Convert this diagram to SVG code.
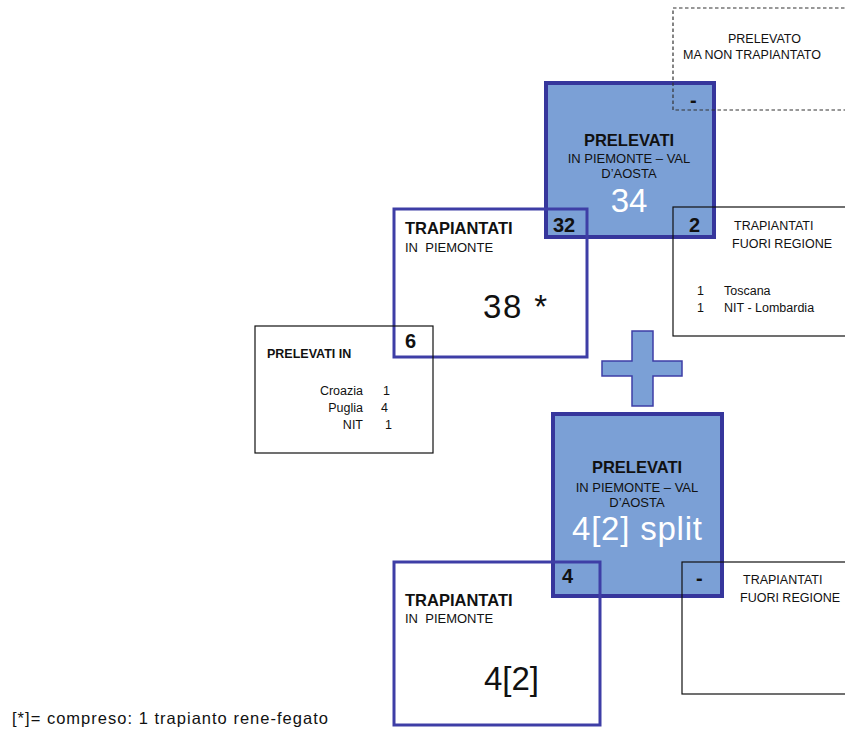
<svg xmlns="http://www.w3.org/2000/svg" width="845" height="731" viewBox="0 0 845 731">
<style>
text{font-family:"Liberation Sans",Arial,sans-serif;fill:#111;white-space:pre}
.blue{fill:#7ba0d6;stroke:#36369c;stroke-width:4}
.tr{fill:none;stroke:#3e3ea6;stroke-width:3}
.thin{fill:none;stroke:#111;stroke-width:1.2}
.dash{fill:none;stroke:#333;stroke-width:1.2;stroke-dasharray:3.5 2.5}
.h{font-weight:bold;font-size:16.5px}
.sub{font-size:13px}
.big{font-size:33px}
.wbig{font-size:33px;fill:#fff}
.num{font-weight:bold;font-size:20px}
.sm{font-size:12.5px}
.mid{text-anchor:middle}
.end{text-anchor:end}
</style>
<g id="connectors"/>
<g id="prelevati-top">
<rect class="blue" x="546" y="83" width="168" height="154"/>
<text class="h mid" x="629" y="146">PRELEVATI</text>
<text class="sub mid" x="629" y="163">IN PIEMONTE – VAL</text>
<text class="sub mid" x="629" y="178">D’AOSTA</text>
<text class="wbig mid" x="629" y="212">34</text>
</g>
<g id="prelevato-non-trapiantato">
<rect class="dash" x="673" y="8" width="180" height="102"/>
<text class="sm" x="728" y="43">PRELEVATO</text>
<text class="sm" x="683" y="59">MA NON TRAPIANTATO</text>
<text class="num" x="690" y="107">-</text>
</g>
<g id="trapiantati-top">
<rect class="tr" x="394" y="209" width="193" height="148"/>
<text class="h" x="405" y="234">TRAPIANTATI</text>
<text class="sub" x="405" y="252" xml:space="preserve">IN  PIEMONTE</text>
<text class="big" x="483" y="318" textLength="64" lengthAdjust="spacing">38 *</text>
<text class="num" x="553" y="232">32</text>
</g>
<g id="fuori-regione-top">
<rect class="thin" x="673" y="207" width="180" height="129"/>
<text class="sm" x="734" y="230">TRAPIANTATI</text>
<text class="sm" x="732" y="248">FUORI REGIONE</text>
<text class="sm" x="697" y="295">1</text>
<text class="sm" x="724" y="295">Toscana</text>
<text class="sm" x="697" y="312">1</text>
<text class="sm" x="724" y="312">NIT - Lombardia</text>
<text class="num" x="689" y="232">2</text>
</g>
<g id="prelevati-in">
<rect class="thin" x="255" y="326" width="178" height="127"/>
<text x="267" y="358" style="font-weight:bold;font-size:12.5px">PRELEVATI IN</text>
<text class="sm end" x="363" y="395">Croazia</text>
<text class="sm" x="383" y="395">1</text>
<text class="sm end" x="363" y="412">Puglia</text>
<text class="sm" x="381" y="412">4</text>
<text class="sm end" x="363" y="429">NIT</text>
<text class="sm" x="385" y="429">1</text>
<text class="num" x="405" y="348">6</text>
</g>
<g id="plus">
<path d="M632,331 H653 V361 H682 V376 H653 V406 H632 V376 H602 V361 H632 Z" fill="#7ba0d6" stroke="#3e3ea6" stroke-width="1.5"/>
</g>
<g id="prelevati-bottom">
<rect class="blue" x="553" y="414" width="169" height="182"/>
<text class="h mid" x="637" y="473">PRELEVATI</text>
<text class="sub mid" x="637" y="492">IN PIEMONTE – VAL</text>
<text class="sub mid" x="637" y="507">D’AOSTA</text>
<text class="wbig mid" x="637" y="540" textLength="130" lengthAdjust="spacing">4[2] split</text>
</g>
<g id="trapiantati-bottom">
<rect class="tr" x="394" y="562" width="206" height="163"/>
<text class="h" x="405" y="606">TRAPIANTATI</text>
<text class="sub" x="405" y="623" xml:space="preserve">IN  PIEMONTE</text>
<text class="big" x="484" y="690">4[2]</text>
<text class="num" x="562" y="583">4</text>
</g>
<g id="fuori-regione-bottom">
<rect class="thin" x="682" y="562" width="180" height="132"/>
<text class="sm" x="743" y="584">TRAPIANTATI</text>
<text class="sm" x="740" y="602">FUORI REGIONE</text>
<text class="num" x="696" y="585">-</text>
</g>
<g id="footnote">
<text x="12" y="724" style="font-size:16.5px" textLength="316" lengthAdjust="spacing">[*]= compreso: 1 trapianto rene-fegato</text>
</g>
</svg>
